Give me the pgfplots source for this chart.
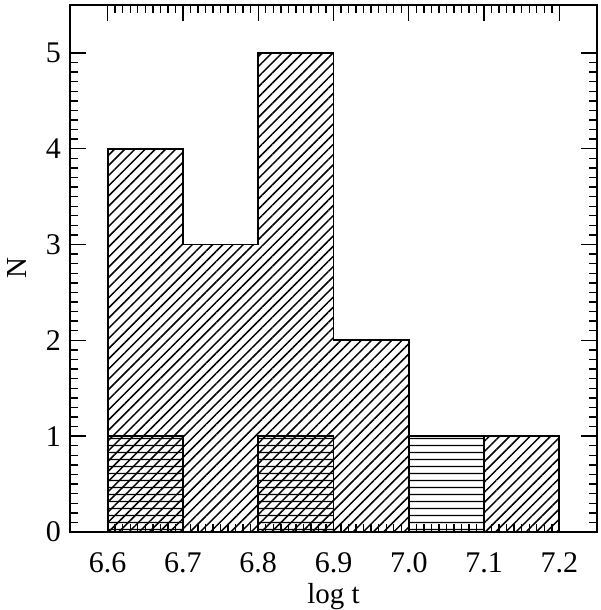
\documentclass[border=0pt]{standalone}
\usepackage{pgfplots}
\pgfplotsset{compat=1.18}
\usepackage{fontspec}
\setmainfont{Liberation Serif}
\usetikzlibrary{patterns.meta,calc}
\begin{document}
\fontsize{30}{34}\selectfont
\begin{tikzpicture}
\begin{axis}[
  scale only axis,
  width=527pt, height=527pt,
  xmin=6.55, xmax=7.25, ymin=0, ymax=5.5,
  axis line style={line width=1.8pt},
  xtick={6.6,6.7,6.8,6.9,7.0,7.1,7.2},
  ytick={0,1,2,3,4,5},
  minor x tick num=9, minor y tick num=9,
  tick align=inside,
  major tick length=16pt, minor tick length=8pt,
  every tick/.style={line width=1.4pt, black},
  /pgf/number format/assume math mode=true,
  x tick label style={/pgf/number format/fixed, /pgf/number format/fixed zerofill, /pgf/number format/precision=1, yshift=-10pt},
  y tick label style={xshift=1pt},
  xlabel={log t}, ylabel={N},
  xlabel style={yshift=-1pt, inner sep=0pt},
  ylabel style={yshift=9pt, inner sep=0pt},
  tick label style={font=\fontsize{30}{34}\selectfont},
  label style={font=\fontsize{29}{32}\selectfont},
]
\addplot[draw=black, line width=1.8pt, fill=none,
  pattern={Lines[angle=45,distance=7.2pt,line width=1.5pt]}]
  coordinates {(6.6,0) (6.6,4) (6.7,4) (6.7,3) (6.8,3) (6.8,5) (6.9,5) (6.9,2) (7.0,2) (7.0,0) (6.6,0)} --cycle;
\addplot[draw=black, line width=1.8pt, fill=none,
  pattern={Lines[angle=45,distance=7.2pt,line width=1.5pt]}]
  coordinates {(7.1,0) (7.1,1) (7.2,1) (7.2,0)} --cycle;
\addplot[draw=black, line width=1.8pt, fill=none,
  pattern={Lines[angle=0,distance=7.4pt,line width=1.4pt]}]
  coordinates {(6.6,0) (6.6,1) (6.7,1) (6.7,0)} --cycle;
\addplot[draw=black, line width=1.8pt, fill=none,
  pattern={Lines[angle=0,distance=7.4pt,line width=1.4pt]}]
  coordinates {(6.8,0) (6.8,1) (6.9,1) (6.9,0)} --cycle;
\addplot[draw=black, line width=1.8pt, fill=none,
  pattern={Lines[angle=0,distance=7.4pt,line width=1.4pt]}]
  coordinates {(7.0,0) (7.0,1) (7.1,1) (7.1,0)} --cycle;
\end{axis}
\pgfresetboundingbox
\useasboundingbox ($(current axis.south west)+(-70pt,-78pt)$) rectangle ($(current axis.north east)+(3pt,5pt)$);
\end{tikzpicture}
\end{document}
